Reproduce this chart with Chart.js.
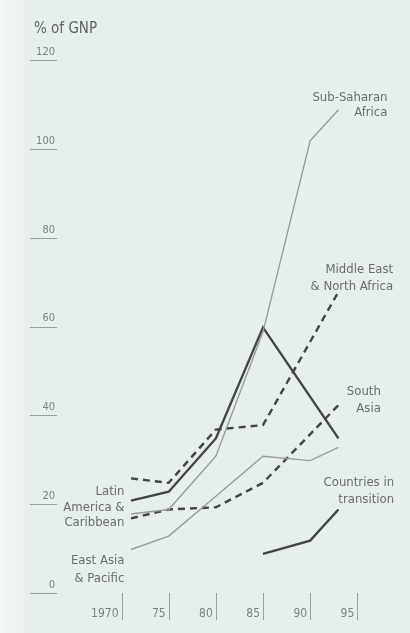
<!DOCTYPE html>
<html>
<head>
<meta charset="utf-8">
<script src="https://cdn.jsdelivr.net/npm/chart.js@4"></script>
<style>
  html, body { margin: 0; padding: 0; background: #e7efeb; }
  #wrap {
    width: 410px; height: 633px; position: relative;
    background: linear-gradient(to right, #f3f7f5 0px, #e7efeb 32px);
  }
</style>
</head>
<body>
<div id="wrap"><canvas id="myChart"></canvas></div>
<script>
// data (% of GNP)
const years = [1971, 1975, 1980, 1985, 1990, 1993];
const subSaharanAfrica = [16, 17, 29, 57, 100, 107];
const latinAmerica = [19, 21, 33, 58, null, 33];
const middleEast = [24, 23, 35, 36, null, 66];
const southAsia = [15, 17, 17.5, 23, null, 40.5];
const eastAsia = [8, 11, 20, 29, 28, 31];
const transition = [null, null, null, 7, 10, 17];

const xTicks = [1970, 1975, 1980, 1985, 1990, 1995];
const yTicks = [0, 20, 40, 60, 80, 100, 120];

const FONT = "'Liberation Sans Narrow', 'DejaVu Sans Condensed', sans-serif";
const TEXT = "#6a6d6b";
const TICK = "#7d817f";
const DARK = "#434545";
const LIGHT = "#979b99";

// region names, anchored in data units (right edge, first line)
const regionLabels = [
  { lines: ["Sub-Saharan", "Africa"], x: 1998.2, y: 109.7, lh: 15 },
  { lines: ["Middle East", "& North Africa"], x: 1998.8, y: 70.9, lh: 17 },
  { lines: ["South", "Asia"], x: 1997.5, y: 43.5, lh: 17 },
  { lines: ["Countries in", "transition"], x: 1998.9, y: 23, lh: 17 },
  { lines: ["Latin", "America &", "Caribbean"], x: 1970.3, y: 21, lh: 15.5 },
  { lines: ["East Asia", "& Pacific"], x: 1970.3, y: 5.6, lh: 18 },
];

function pts(values) {
  return years.map((yr, i) => ({ x: yr, y: values[i] }));
}

const extras = {
  id: "extras",
  afterDraw(chart) {
    const ctx = chart.ctx;
    const xs = chart.scales.x, ys = chart.scales.y;
    ctx.save();
    ctx.fillStyle = "#5e6260";
    ctx.font = "15px " + FONT;
    ctx.textAlign = "left";
    ctx.textBaseline = "middle";
    ctx.fillText("% of GNP", 34, 29);

    // underlines below y labels
    ctx.strokeStyle = "#9a9e9c";
    ctx.lineWidth = 1;
    yTicks.forEach((v) => {
      const py = Math.round(ys.getPixelForValue(v)) + 8.5;
      ctx.beginPath();
      ctx.moveTo(30, py);
      ctx.lineTo(57, py);
      ctx.stroke();
    });

    // vertical tick marks right of x labels
    xTicks.forEach((v) => {
      const px = Math.round(xs.getPixelForValue(v)) + 0.5;
      ctx.beginPath();
      ctx.moveTo(px, ys.bottom + 8);
      ctx.lineTo(px, ys.bottom + 35);
      ctx.stroke();
    });

    ctx.fillStyle = TEXT;
    ctx.font = "13px " + FONT;
    ctx.textAlign = "right";
    regionLabels.forEach((l) => {
      const px = xs.getPixelForValue(l.x);
      const py = ys.getPixelForValue(l.y);
      l.lines.forEach((t, i) => ctx.fillText(t, px, py + i * l.lh));
    });
    ctx.restore();
  },
};

function line(label, values, color, width, dash) {
  return {
    label: label,
    data: pts(values),
    borderColor: color,
    borderWidth: width,
    borderDash: dash || [],
    pointRadius: 0,
    tension: 0,
    spanGaps: true,
    fill: false,
    clip: false,
  };
}

new Chart(document.getElementById("myChart"), {
  type: "line",
  data: {
    datasets: [
      line("Sub-Saharan Africa", subSaharanAfrica, LIGHT, 1.4),
      line("East Asia & Pacific", eastAsia, LIGHT, 1.4),
      line("South Asia", southAsia, DARK, 2.4, [7, 5]),
      line("Middle East & North Africa", middleEast, DARK, 2.4, [7, 5]),
      line("Latin America & Caribbean", latinAmerica, DARK, 2.4),
      line("Countries in transition", transition, DARK, 2.4),
    ],
  },
  options: {
    responsive: true,
    maintainAspectRatio: false,
    animation: false,
    layout: { padding: { left: 0, right: 15, top: 52, bottom: 0 } },
    plugins: { legend: { display: false }, tooltip: { enabled: false } },
    scales: {
      x: {
        type: "linear",
        min: 1964,
        max: 1999,
        afterBuildTicks: (s) => { s.ticks = xTicks.map((v) => ({ value: v })); },
        afterFit: (s) => { s.height = 48; },
        grid: { display: false },
        border: { display: false },
        ticks: {
          align: "end",
          labelOffset: -3,
          padding: 14,
          color: TICK,
          font: { family: FONT, size: 12 },
          callback: (v) => (v === 1970 ? "1970" : String(v).slice(2)),
        },
      },
      y: {
        min: 0,
        max: 120,
        afterBuildTicks: (s) => { s.ticks = yTicks.map((v) => ({ value: v })); },
        afterFit: (s) => { s.width = 65; },
        grid: { display: false },
        border: { display: false },
        ticks: {
          color: TICK,
          padding: 2,
          font: { family: FONT, size: 11 },
        },
      },
    },
  },
  plugins: [extras],
});
</script>
</body>
</html>
